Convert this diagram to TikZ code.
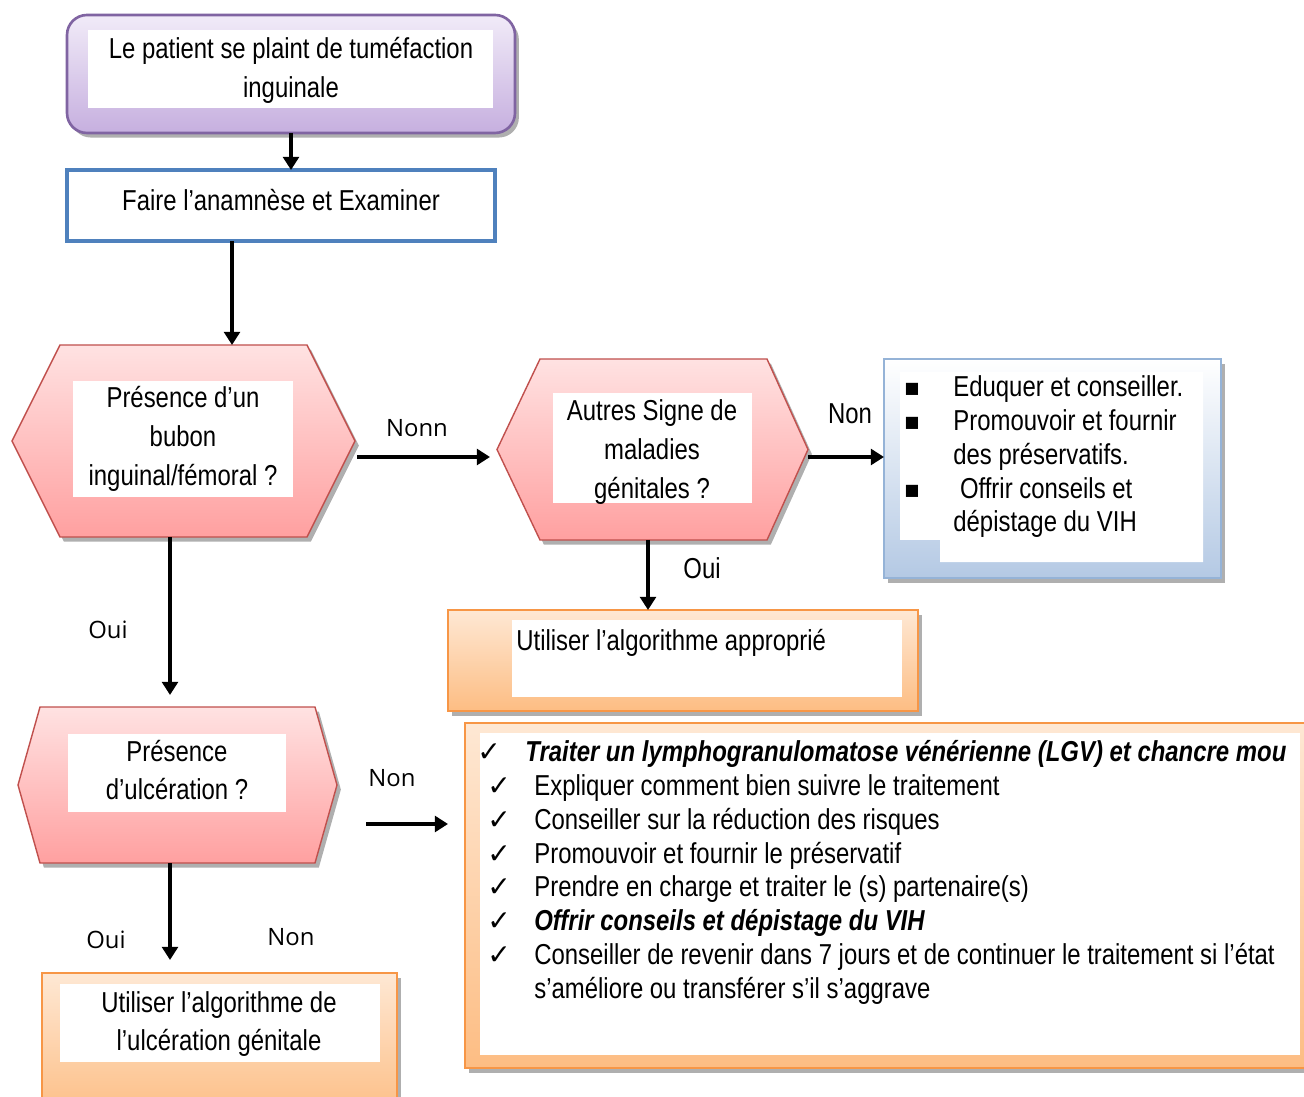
\documentclass[tikz,border=0pt]{standalone}
\usepackage{fontspec}
\setmainfont{Liberation Sans}[FakeStretch=0.83]
\newfontfamily\labfont{Open Sans}
\newfontfamily\symfont{DejaVu Sans}
\usetikzlibrary{arrows.meta,fit,shadows}
\definecolor{purB}{HTML}{8064A2}
\definecolor{purT}{HTML}{F1EBF8}
\definecolor{purD}{HTML}{C6AFDF}
\definecolor{blueB}{HTML}{4F81BD}
\definecolor{hexB}{HTML}{C0504D}
\definecolor{hexT}{HTML}{FFE2E2}
\definecolor{hexD}{HTML}{FFA0A0}
\definecolor{lbB}{HTML}{95B3D7}
\definecolor{lbD}{HTML}{B4C9E4}
\definecolor{orB}{HTML}{F79646}
\definecolor{orT}{HTML}{FEE8D4}
\definecolor{orD}{HTML}{FDBD83}
\begin{document}
\begin{tikzpicture}[x=0.02cm,y=-0.02cm,
  txt/.style={font=\fontsize{16.4pt}{22.1pt}\selectfont, inner sep=0pt, align=center},
  ltxt/.style={font=\fontsize{16.4pt}{19.3pt}\selectfont, inner sep=0pt, anchor=base west},
  lab/.style={font=\labfont\fontsize{13.6pt}{16pt}\selectfont, inner sep=0pt},
  arr/.style={line width=2.7pt, -{Triangle[length=7.5pt,width=9pt]}},
  frame/.style={inner sep=0pt, outer sep=0pt},
  sh/.style={drop shadow={shadow xshift=2.2pt, shadow yshift=-2.6pt, fill=gray!70, opacity=0.9}},
  hexs/.style={draw=hexB, line width=0.8pt, top color=hexT, bottom color=hexD, sh},
  orbox/.style={frame, draw=orB, line width=1.3pt, top color=orT, bottom color=orD, sh},
  chk/.style={font=\symfont\bfseries\fontsize{16pt}{18pt}\selectfont, inner sep=0pt, anchor=base west},
  bul/.style={font=\symfont\fontsize{9pt}{10pt}\selectfont, inner sep=0pt, anchor=base},
]
\useasboundingbox (0,0) rectangle (1304,1097);

% ---- shapes ----
\node[frame, fit={(67,15) (515,133)}, draw=purB, line width=1.5pt, rounded corners=0.4cm,
      top color=purT, bottom color=purD, sh] (start) {};
\fill[white] (88,30) rectangle (493,108);

\node[frame, fit={(67,170) (495,241)}, draw=blueB, line width=2.3pt, fill=white] (exam) {};

\path[hexs] (12,441) -- (60,345) -- (307,345) -- (355,441) -- (307,537) -- (60,537) -- cycle;
\node[frame, fit={(12,345) (355,537)}] (hexA) {};
\fill[white] (73,381) rectangle (293,497);

\path[hexs] (497,449.5) -- (540,359) -- (767,359) -- (808,449.5) -- (767,540) -- (540,540) -- cycle;
\node[frame, fit={(497,359) (808,540)}] (hexB) {};
\fill[white] (553,393) rectangle (752,503);

\node[frame, fit={(884,359) (1221,578)}, draw=lbB, line width=1.6pt, top color=white, bottom color=lbD, sh] (blue) {};
\fill[white] (900,372) -- (1203,372) -- (1203,562) -- (940,562) -- (940,540) -- (900,540) -- cycle;

\node[orbox, fit={(448,610) (918,711)}] (algoA) {};
\fill[white] (512,620) rectangle (902,697);

\path[hexs] (18,785) -- (40,707) -- (315,707) -- (337,785) -- (315,863) -- (40,863) -- cycle;
\node[frame, fit={(18,707) (337,863)}] (hexC) {};
\fill[white] (68,734) rectangle (286,812);

\node[orbox, fit={(465,723) (1330,1068)}] (big) {};
\fill[white] (480,733) rectangle (1300,1055);

\node[orbox, fit={(42,973) (397,1120)}] (algoU) {};
\fill[white] (60,984) rectangle (380,1062);

% ---- texts ----
\node[txt] (t1) at (291,70) {Le patient se plaint de tuméfaction\\inguinale};
\node[txt, anchor=base] (t2) at (281,211) {Faire l’anamnèse et Examiner};
\node[txt] (tA) at (183,439) {Présence d’un\\bubon\\inguinal/fémoral ?};
\node[txt] (tB) at (652,452) {Autres Signe de\\maladies\\génitales ?};
\node[txt] (tC) at (177,770) {Présence\\d’ulcération ?};
\node[ltxt] (tAA) at (516,650) {Utiliser l’algorithme approprié};
\node[txt] (tU) at (219,1024) {Utiliser l’algorithme de\\l’ulcération génitale};

% blue list
\node[bul] (q1) at (912,394) {■};
\node[ltxt] (r1) at (953,397) {Eduquer et conseiller.};
\node[bul] (q2) at (912,428) {■};
\node[ltxt] (r2) at (953,431) {Promouvoir et fournir};
\node[ltxt] (r3) at (953,465) {des préservatifs.};
\node[bul] (q4) at (912,496) {■};
\node[ltxt] (r4) at (953,499) {\ Offrir conseils et};
\node[ltxt] (r5) at (953,532) {dépistage du VIH};

% big list
\node[chk] (c1) at (477,761) {✓};
\node[ltxt] (b1) at (525,761) {\bfseries\itshape Traiter un lymphogranulomatose vénérienne (LGV) et chancre mou};
\node[chk] (c2) at (487,795) {✓};
\node[ltxt] (b2) at (534,795) {Expliquer comment bien suivre le traitement};
\node[chk] (c3) at (487,829) {✓};
\node[ltxt] (b3) at (534,829) {Conseiller sur la réduction des risques};
\node[chk] (c4) at (487,863) {✓};
\node[ltxt] (b4) at (534,863) {Promouvoir et fournir le préservatif};
\node[chk] (c5) at (487,896) {✓};
\node[ltxt] (b5) at (534,896) {Prendre en charge et traiter le (s) partenaire(s)};
\node[chk] (c6) at (487,930) {✓};
\node[ltxt] (b6) at (534,930) {\bfseries\itshape Offrir conseils et dépistage du VIH};
\node[chk] (c7) at (487,964) {✓};
\node[ltxt] (b7) at (534,964) {Conseiller de revenir dans 7 jours et de continuer le traitement si l’état};
\node[ltxt] (b8) at (534,998) {s’améliore ou transférer s’il s’aggrave};

% labels
\node[lab] (lNonn) at (417,428) {Nonn};
\node[txt] (lNon1) at (850,414) {Non};
\node[txt] (lOui1) at (702,568) {Oui};
\node[lab] (lOui2) at (108,630) {Oui};
\node[lab] (lNon2) at (392,778) {Non};
\node[lab] (lOui3) at (106,940) {Oui};
\node[lab] (lNon3) at (291,937) {Non};

% ---- connectors ----
\draw[arr] (start.south) -- (start.south |- exam.north);
\draw[arr] ([xshift=-0.98cm]exam.south) -- ([xshift=-0.98cm]exam.south |- hexA.north);
\draw[arr, shorten <=0.04cm, shorten >=0.14cm] ([yshift=-0.32cm]hexA.east) -- ([yshift=-0.32cm]hexA.east -| hexB.west);
\draw[arr] ([yshift=-0.15cm]hexB.east) -- ([yshift=-0.15cm]hexB.east -| blue.west);
\draw[arr] ([xshift=-0.09cm]hexB.south) -- ([xshift=-0.09cm]hexB.south |- algoA.north);
\draw[arr, shorten >=0.24cm] ([xshift=-0.27cm]hexA.south) -- ([xshift=-0.27cm]hexA.south |- hexC.north);
\draw[arr, shorten >=0.34cm] ([xshift=0.58cm,yshift=-0.78cm]hexC.east) -- ([yshift=-0.78cm]hexC.east -| big.west);
\draw[arr, shorten >=0.26cm] ([xshift=-0.15cm]hexC.south) -- ([xshift=-0.15cm]hexC.south |- algoU.north);
\end{tikzpicture}
\end{document}
